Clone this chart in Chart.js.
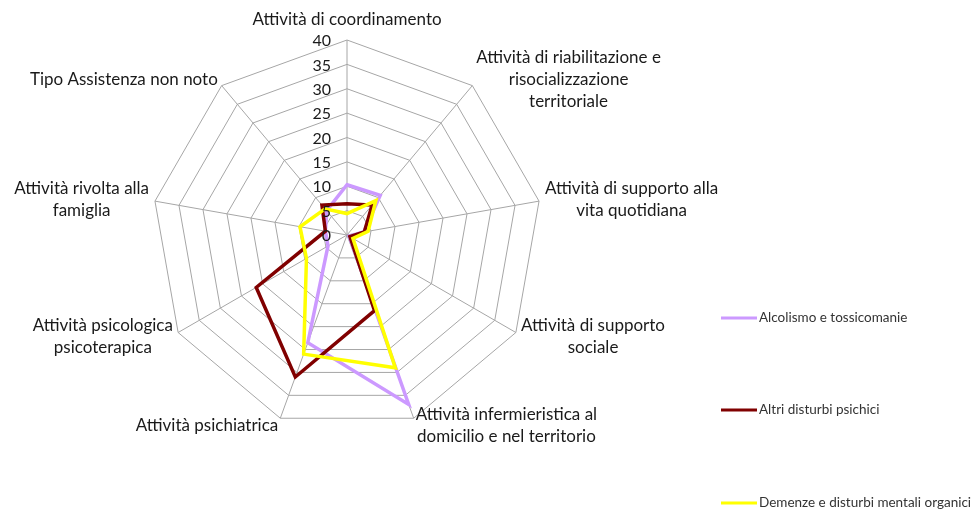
<!DOCTYPE html>
<html>
<head>
<meta charset="utf-8">
<script src="https://cdn.jsdelivr.net/npm/chart.js@4/dist/chart.umd.min.js"></script>
<style>
  html, body { margin: 0; padding: 0; background: #fff; }
  #wrap { width: 973px; height: 514px; position: relative; }
</style>
</head>
<body>
<div id="wrap"><canvas id="chart"></canvas></div>
<script>
(function () {
  'use strict';

  var labels = [
    'Attività di coordinamento',
    ['Attività di riabilitazione e', 'risocializzazione', 'territoriale'],
    ['Attività di supporto alla', 'vita quotidiana'],
    ['Attività di supporto', 'sociale'],
    ['Attività infermieristica al', 'domicilio e nel territorio'],
    'Attività psichiatrica',
    ['Attività psicologica', 'psicoterapica'],
    ['Attività rivolta alla', 'famiglia'],
    'Tipo Assistenza non noto'
  ];

  var seriesNames = ['Alcolismo e tossicomanie', 'Altri disturbi psichici', 'Demenze e disturbi mentali organici'];
  var alcolismo = [10.3, 10.6, 3.5, 0.5, 37, 23.5, 4.5, 4.5, 6.5];
  var altri = [6.4, 8.0, 3.6, 0.7, 16.5, 31, 21.5, 4.5, 8];
  var demenze = [4.4, 9.2, 4.4, 1.4, 29, 26, 9.6, 9.8, 7];
  var colors = ['#cc99ff', '#800000', '#ffff00'];

  var tickMin = 0;
  var tickMax = 40;
  var tickStep = 5;

  var labelFont = '17px Lato, "Noto Sans", sans-serif';
  var tickFont = '16px Lato, "Noto Sans", sans-serif';
  var textColor = '#1a1a1a';
  var lineH = 22;

  var excelLabels = {
    id: 'excelLabels',
    afterDraw: function (chart) {
      var ctx = chart.ctx;
      var scale = chart.scales.r;
      var cx = scale.xCenter;
      var cy = scale.yCenter;
      ctx.save();

      // tick labels at the left of the vertical axis
      ctx.font = tickFont;
      ctx.fillStyle = textColor;
      ctx.textAlign = 'right';
      ctx.textBaseline = 'middle';
      scale.ticks.forEach(function (t) {
        var d = scale.getDistanceFromCenterForValue(t.value);
        ctx.fillText(String(t.value), cx - 16, cy - d + 1);
      });

      // category labels
      ctx.font = labelFont;
      chart.data.labels.forEach(function (lab, i) {
        var lines = Array.isArray(lab) ? lab : [lab];
        var p = scale.getPointPosition(i, scale.drawingArea);
        var ang = scale.getIndexAngle(i);
        var s = Math.sin(ang);
        var c = Math.cos(ang);
        var w = 0;
        lines.forEach(function (l) { w = Math.max(w, ctx.measureText(l).width); });
        var h = lines.length * lineH;
        var midX, midY;
        if (Math.abs(s) < 0.01) {
          midX = p.x;
          midY = c > 0 ? p.y - 9 - h / 2 : p.y + 9 + h / 2;
        } else {
          var gap = 6 * Math.abs(s);
          midX = s > 0 ? p.x + gap + w / 2 : p.x - gap - w / 2;
          midY = p.y - c * 8;
        }
        ctx.textAlign = 'center';
        lines.forEach(function (l, k) {
          ctx.fillText(l, midX, midY - h / 2 + lineH * (k + 0.5));
        });
      });

      // legend
      ctx.font = '13.5px Lato, "Noto Sans", sans-serif';
      ctx.textAlign = 'left';
      var legendY = [318, 410, 503];
      chart.data.datasets.forEach(function (ds, i) {
        ctx.strokeStyle = ds.borderColor;
        ctx.lineWidth = 3;
        ctx.beginPath();
        ctx.moveTo(721, legendY[i]);
        ctx.lineTo(757, legendY[i]);
        ctx.stroke();
        ctx.fillStyle = '#333333';
        ctx.fillText(ds.label, 759, legendY[i]);
      });
      ctx.restore();
    }
  };

  var ctx = document.getElementById('chart').getContext('2d');

  var data = {
    labels: labels,
    datasets: [
      { label: seriesNames[0], data: alcolismo, borderColor: colors[0], order: 3 },
      { label: seriesNames[1], data: altri, borderColor: colors[1], order: 2 },
      { label: seriesNames[2], data: demenze, borderColor: colors[2], order: 1 }
    ]
  };

  data.datasets.forEach(function (ds) {
    ds.fill = false;
    ds.borderWidth = 3.5;
    ds.pointRadius = 0;
    ds.tension = 0;
    ds.borderJoinStyle = 'miter';
    ds.backgroundColor = ds.borderColor;
  });

  var options = {
    responsive: true,
    maintainAspectRatio: false,
    animation: false,
    layout: { padding: { left: 152, right: 431, top: 40, bottom: 84 } },
    plugins: {
      legend: { display: false },
      tooltip: { enabled: false }
    },
    scales: {
      r: {
        min: tickMin,
        max: tickMax,
        ticks: { stepSize: tickStep, display: false },
        grid: { color: '#a6a6a6', lineWidth: 1 },
        angleLines: { color: '#a6a6a6', lineWidth: 1 },
        pointLabels: { display: false }
      }
    }
  };

  new Chart(ctx, {
    type: 'radar',
    data: data,
    options: options,
    plugins: [excelLabels]
  });
}());
</script>
</body>
</html>
